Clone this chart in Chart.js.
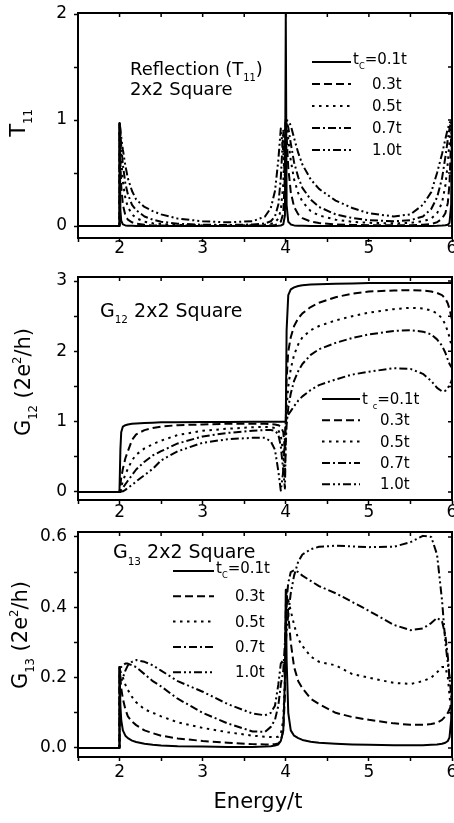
<!DOCTYPE html>
<html>
<head>
<meta charset="utf-8">
<script src="https://cdn.jsdelivr.net/npm/chart.js@4.4.1/dist/chart.umd.min.js"></script>
<style>
  html, body { margin: 0; padding: 0; background: #fff; }
  body { width: 454px; height: 823px; position: relative; overflow: hidden; }
  canvas { position: absolute; left: 0; }
</style>
</head>
<body>
<canvas id="c1" width="454" height="262" style="top:0px"></canvas>
<canvas id="c2" width="454" height="258" style="top:262px"></canvas>
<canvas id="c3" width="454" height="303" style="top:520px"></canvas>
<script>
// energy grid (E/t), shared by all three panels
const energy = [1.5, 1.999,
  2.0, 2.01, 2.02, 2.04, 2.07, 2.1, 2.15, 2.2, 2.3, 2.4, 2.5, 2.7,
  3.0, 3.3, 3.6, 3.75, 3.82, 3.87, 3.91, 3.94, 3.97, 3.99,
  4.0, 4.01, 4.03, 4.06, 4.1, 4.15, 4.2, 4.3, 4.4, 4.6, 4.8, 5.0,
  5.3, 5.5, 5.65, 5.75, 5.82, 5.88, 5.92, 5.95, 5.97, 5.99, 6.0];
const tcLabels = ['0.1t', '0.3t', '0.5t', '0.7t', '1.0t'];

// reflection T11
const t11_01 = [0, 0,
  0.97, 0.15, 0.05, 0.015, 0.006, 0.003, 0.002, 0.001, 0, 0, 0, 0,
  0, 0, 0, 0, 0, 0, 0.002, 0.005, 0.015, 0.1,
  2.0, 0.2, 0.04, 0.015, 0.006, 0.003, 0.002, 0.001, 0, 0, 0, 0,
  0, 0, 0, 0.001, 0.002, 0.004, 0.007, 0.012, 0.03, 0.2, 1.0];
const t11_03 = [0, 0,
  0.97, 0.6, 0.38, 0.2, 0.1, 0.06, 0.035, 0.022, 0.011, 0.006, 0.004, 0.002,
  0.001, 0.001, 0.002, 0.004, 0.006, 0.01, 0.02, 0.04, 0.12, 0.5,
  1.0, 0.85, 0.55, 0.32, 0.18, 0.11, 0.075, 0.042, 0.028, 0.015, 0.01, 0.008,
  0.007, 0.008, 0.012, 0.02, 0.035, 0.07, 0.12, 0.22, 0.4, 0.85, 1.0];
const t11_05 = [0, 0,
  0.97, 0.8, 0.63, 0.42, 0.26, 0.18, 0.11, 0.075, 0.04, 0.026, 0.018, 0.01,
  0.006, 0.005, 0.007, 0.012, 0.02, 0.035, 0.07, 0.15, 0.4, 0.85,
  1.0, 0.96, 0.82, 0.62, 0.44, 0.31, 0.23, 0.14, 0.1, 0.06, 0.04, 0.03,
  0.025, 0.03, 0.045, 0.07, 0.12, 0.22, 0.38, 0.6, 0.8, 0.97, 1.0];
const t11_07 = [0, 0,
  0.97, 0.88, 0.76, 0.58, 0.4, 0.3, 0.2, 0.15, 0.09, 0.06, 0.04, 0.022,
  0.012, 0.01, 0.014, 0.025, 0.045, 0.09, 0.2, 0.45, 0.9, 0.6,
  1.0, 0.99, 0.93, 0.78, 0.6, 0.46, 0.36, 0.25, 0.18, 0.11, 0.075, 0.055,
  0.045, 0.055, 0.09, 0.16, 0.27, 0.45, 0.65, 0.82, 0.92, 0.99, 1.0];
const t11_10 = [0, 0,
  0.97, 0.92, 0.84, 0.72, 0.57, 0.45, 0.33, 0.25, 0.18, 0.14, 0.11, 0.07,
  0.045, 0.035, 0.045, 0.09, 0.17, 0.33, 0.62, 0.92, 0.7, 0.45,
  1.0, 1.0, 0.99, 0.95, 0.83, 0.69, 0.58, 0.44, 0.35, 0.24, 0.17, 0.12,
  0.09, 0.11, 0.2, 0.32, 0.5, 0.68, 0.82, 0.92, 0.97, 1.0, 1.0];

// G12
const g12_01 = [0, 0,
  0, 0.6, 0.85, 0.93, 0.95, 0.96, 0.97, 0.975, 0.98, 0.985, 0.99, 0.99,
  0.995, 0.995, 1.0, 1.0, 1.0, 1.0, 1.0, 1.0, 1.0, 1.0,
  1.0, 2.3, 2.8, 2.88, 2.91, 2.93, 2.94, 2.95, 2.955, 2.96, 2.965, 2.97,
  2.97, 2.97, 2.97, 2.97, 2.97, 2.97, 2.97, 2.97, 2.97, 2.97, 2.97];
const g12_03 = [0, 0,
  0, 0.1, 0.2, 0.33, 0.48, 0.58, 0.74, 0.82, 0.88, 0.91, 0.93, 0.95,
  0.96, 0.97, 0.97, 0.97, 0.965, 0.96, 0.95, 0.93, 0.85, 0.6,
  1.0, 1.6, 2.0, 2.2, 2.36, 2.47, 2.54, 2.63, 2.69, 2.77, 2.82, 2.85,
  2.865, 2.87, 2.865, 2.85, 2.83, 2.8, 2.75, 2.68, 2.6, 2.5, 2.45];
const g12_05 = [0, 0,
  0, 0.04, 0.08, 0.15, 0.25, 0.33, 0.45, 0.53, 0.62, 0.68, 0.73, 0.81,
  0.87, 0.9, 0.92, 0.925, 0.92, 0.91, 0.88, 0.8, 0.55, 0.2,
  0.9, 1.2, 1.5, 1.75, 1.95, 2.1, 2.2, 2.3, 2.36, 2.44, 2.5, 2.55,
  2.6, 2.62, 2.61, 2.58, 2.54, 2.47, 2.38, 2.28, 2.2, 2.1, 2.05];
const g12_07 = [0, 0,
  0, 0.01, 0.03, 0.06, 0.11, 0.16, 0.24, 0.32, 0.43, 0.52, 0.58, 0.69,
  0.79, 0.84, 0.87, 0.88, 0.88, 0.87, 0.82, 0.65, 0.3, 0.05,
  0.7, 0.95, 1.2, 1.4, 1.58, 1.72, 1.82, 1.95, 2.03, 2.12, 2.19, 2.24,
  2.29, 2.3, 2.28, 2.24, 2.17, 2.08, 1.98, 1.88, 1.82, 1.78, 1.8];
const g12_10 = [0, 0,
  0, 0, 0.005, 0.01, 0.03, 0.06, 0.1, 0.15, 0.24, 0.33, 0.45, 0.58,
  0.7, 0.75, 0.77, 0.77, 0.72, 0.6, 0.3, 0.02, 0.3, 0.8,
  1.0, 1.05, 1.1, 1.15, 1.22, 1.3, 1.36, 1.45, 1.52, 1.6, 1.67, 1.71,
  1.76, 1.75, 1.68, 1.58, 1.48, 1.43, 1.44, 1.48, 1.52, 1.57, 1.6];

// G13
const g13_01 = [0, 0,
  0.23, 0.12, 0.08, 0.05, 0.035, 0.028, 0.021, 0.017, 0.012, 0.009, 0.007, 0.005,
  0.004, 0.003, 0.003, 0.004, 0.005, 0.007, 0.01, 0.02, 0.05, 0.2,
  0.45, 0.25, 0.1, 0.05, 0.035, 0.028, 0.023, 0.018, 0.015, 0.012, 0.01, 0.009,
  0.008, 0.008, 0.008, 0.009, 0.01, 0.012, 0.015, 0.02, 0.03, 0.08, 0.2];
const g13_03 = [0, 0,
  0.23, 0.2, 0.17, 0.14, 0.11, 0.09, 0.075, 0.065, 0.05, 0.042, 0.035, 0.027,
  0.02, 0.015, 0.011, 0.01, 0.01, 0.011, 0.013, 0.02, 0.05, 0.15,
  0.4, 0.45, 0.38, 0.3, 0.23, 0.19, 0.17, 0.14, 0.125, 0.1, 0.088, 0.08,
  0.07, 0.066, 0.066, 0.068, 0.072, 0.08, 0.09, 0.1, 0.11, 0.12, 0.12];
const g13_05 = [0, 0,
  0.23, 0.22, 0.21, 0.2, 0.18, 0.165, 0.145, 0.13, 0.11, 0.1, 0.09, 0.073,
  0.057, 0.045, 0.035, 0.032, 0.031, 0.031, 0.032, 0.04, 0.08, 0.2,
  0.35, 0.41, 0.42, 0.39, 0.35, 0.31, 0.29, 0.26, 0.245, 0.235, 0.21, 0.2,
  0.185, 0.182, 0.19, 0.2, 0.215, 0.23, 0.23, 0.2, 0.15, 0.1, 0.08];
const g13_07 = [0, 0,
  0.23, 0.23, 0.23, 0.235, 0.24, 0.24, 0.235, 0.23, 0.21, 0.19, 0.175, 0.14,
  0.1, 0.07, 0.047, 0.046, 0.06, 0.08, 0.12, 0.18, 0.22, 0.3,
  0.35, 0.42, 0.47, 0.5, 0.505, 0.5, 0.49, 0.475, 0.46, 0.44, 0.415, 0.39,
  0.35, 0.335, 0.34, 0.355, 0.37, 0.36, 0.32, 0.26, 0.2, 0.15, 0.13];
const g13_10 = [0, 0,
  0.23, 0.2, 0.19, 0.2, 0.22, 0.235, 0.245, 0.25, 0.245, 0.235, 0.22, 0.19,
  0.16, 0.125, 0.098, 0.093, 0.1, 0.12, 0.18, 0.24, 0.25, 0.2,
  0.3, 0.33, 0.38, 0.44, 0.49, 0.53, 0.55, 0.565, 0.572, 0.575, 0.573, 0.571,
  0.572, 0.585, 0.603, 0.6, 0.55, 0.42, 0.3, 0.24, 0.2, 0.2, 0.2];

const FONT = "'DejaVu Sans', sans-serif";
const dashes = [[], [8, 4], [2.5, 4.5], [8, 3, 2, 3], [8, 3, 2, 3, 2, 3]];

Chart.defaults.font.family = FONT;
Chart.defaults.color = '#000';

// text with sub/superscripts: parts = [[text, ''|'sub'|'sup'], ...]
function richWidth(ctx, parts, size) {
  let w = 0;
  parts.forEach(([t, k]) => {
    ctx.font = (k ? size * 0.55 : size) + 'px ' + FONT;
    w += ctx.measureText(t).width;
  });
  return w;
}
function drawRich(ctx, parts, x, y, size, center) {
  let cx = center ? x - richWidth(ctx, parts, size) / 2 : x;
  ctx.textAlign = 'left';
  ctx.textBaseline = 'alphabetic';
  parts.forEach(([t, k]) => {
    ctx.font = (k ? size * 0.55 : size) + 'px ' + FONT;
    const dy = k === 'sub' ? size * 0.35 : k === 'sup' ? -size * 0.42 : 0;
    ctx.fillText(t, cx, y + dy);
    cx += ctx.measureText(t).width;
  });
}

function decor(p) {
  return {
    id: 'decor',
    afterDraw(chart) {
      const ctx = chart.ctx;
      const a = chart.chartArea;
      const xs = chart.scales.x, ys = chart.scales.y;
      ctx.save();
      ctx.fillStyle = '#000';
      ctx.strokeStyle = '#000';
      // frame + inward ticks on top and right
      ctx.lineWidth = 2;
      ctx.setLineDash([]);
      ctx.strokeRect(a.left, a.top, a.right - a.left, a.bottom - a.top);
      ctx.lineWidth = 1.5;
      ctx.beginPath();
      xs.ticks.forEach(t => {
        const px = xs.getPixelForValue(t.value);
        ctx.moveTo(px, a.top); ctx.lineTo(px, a.top + 4);
      });
      ys.ticks.forEach(t => {
        const py = ys.getPixelForValue(t.value);
        ctx.moveTo(a.right, py); ctx.lineTo(a.right - 4, py);
      });
      ctx.stroke();
      // y title
      ctx.save();
      ctx.translate(p.yTitle.x, p.yTitle.y);
      ctx.rotate(-Math.PI / 2);
      drawRich(ctx, p.yTitle.parts, 0, 0, 21, true);
      ctx.restore();
      // notes inside the plot
      p.notes.forEach(n => drawRich(ctx, n.parts, n.x, n.y, n.size, false));
      // legend
      const L = p.legend;
      chart.data.datasets.forEach((ds, i) => {
        const y = L.y0 + i * L.dy;
        ctx.lineWidth = 2;
        ctx.setLineDash(ds.borderDash);
        ctx.beginPath();
        ctx.moveTo(L.x1, y); ctx.lineTo(L.x2, y);
        ctx.stroke();
        ctx.setLineDash([]);
        if (i === 0) {
          drawRich(ctx, L.first.concat([['=' + tcLabels[0], '']]), L.tx0, y + L.firstDy, L.size, false);
        } else {
          drawRich(ctx, [[tcLabels[i], '']], L.tx, y + 5, L.size, false);
        }
      });
      if (p.xTitle) drawRich(ctx, [[p.xTitle.text, '']], p.xTitle.x, p.xTitle.y, 21, true);
      ctx.restore();
    }
  };
}

const panels = [
  {
    id: 'c1', series: [t11_01, t11_03, t11_05, t11_07, t11_10],
    yMin: -0.113, yMax: 2.01, yStep: 0.5, yLabel: v => Number.isInteger(v) ? String(v) : '',
    top: 13, xh: 24, xpad: -2,
    yTitle: { parts: [['T', ''], ['11', 'sub']], x: 25, y: 123 },
    notes: [
      { parts: [['Reflection (T', ''], ['11', 'sub'], [')', '']], x: 130, y: 75, size: 18 },
      { parts: [['2x2 Square', '']], x: 130, y: 94.5, size: 18 }
    ],
    legend: { x1: 312, x2: 351, tx0: 353, tx: 372, y0: 62, dy: 22, size: 15, firstDy: 2,
      first: [['t', ''], ['C', 'sub']] }
  },
  {
    id: 'c2', series: [g12_01, g12_03, g12_05, g12_07, g12_10],
    yMin: -0.114, yMax: 3.057, yStep: 0.5, yLabel: v => Number.isInteger(v) ? String(v) : '',
    top: 15, xh: 20, xpad: 0,
    yTitle: { parts: [['G', ''], ['12', 'sub'], [' (2e', ''], ['2', 'sup'], ['/h)', '']], x: 30, y: 120 },
    notes: [
      { parts: [['G', ''], ['12', 'sub'], [' 2x2 Square', '']], x: 100, y: 54.7, size: 19 }
    ],
    legend: { x1: 322, x2: 360, tx0: 362, tx: 380, y0: 137, dy: 21.3, size: 15, firstDy: 5,
      first: [['t ', ''], ['c', 'sub']] }
  },
  {
    id: 'c3', series: [g13_01, g13_03, g13_05, g13_07, g13_10],
    yMin: -0.0256, yMax: 0.614, yStep: 0.1,
    yLabel: v => Math.round(v * 10) % 2 === 0 ? v.toFixed(1) : '',
    top: 12, xh: 66, xpad: 3,
    yTitle: { parts: [['G', ''], ['13', 'sub'], [' (2e', ''], ['2', 'sup'], ['/h)', '']], x: 27, y: 115 },
    notes: [
      { parts: [['G', ''], ['13', 'sub'], [' 2x2 Square', '']], x: 113, y: 38, size: 19 }
    ],
    legend: { x1: 173, x2: 214, tx0: 216, tx: 235, y0: 51, dy: 25.3, size: 15, firstDy: 2,
      first: [['t', ''], ['C', 'sub']] },
    xTitle: { text: 'Energy/t', x: 258, y: 288 }
  }
];

panels.forEach(p => {
  new Chart(document.getElementById(p.id), {
    type: 'line',
    data: {
      datasets: p.series.map((ys, i) => ({
        label: tcLabels[i],
        data: energy.map((x, j) => ({ x: x, y: ys[j] })),
        borderColor: '#000',
        borderWidth: 2,
        borderDash: dashes[i],
        borderJoinStyle: 'round',
        pointRadius: 0,
        tension: 0,
        fill: false
      }))
    },
    options: {
      responsive: false,
      animation: false,
      devicePixelRatio: 1,
      layout: { padding: { top: p.top, right: 2, left: 0, bottom: 0 } },
      plugins: { legend: { display: false }, tooltip: { enabled: false } },
      scales: {
        x: {
          type: 'linear', min: 1.5, max: 6,
          afterFit: s => { s.height = p.xh; s.paddingLeft = 0; s.paddingRight = 0; },
          ticks: {
            stepSize: 0.5, includeBounds: false, autoSkip: false, maxRotation: 0,
            padding: p.xpad, font: { size: 17, lineHeight: 1 },
            callback: v => Number.isInteger(v) ? String(v) : ''
          },
          grid: { drawOnChartArea: false, tickLength: 4, tickWidth: 1.5, tickColor: '#000' },
          border: { color: '#000', width: 2 }
        },
        y: {
          type: 'linear', min: p.yMin, max: p.yMax,
          afterFit: s => { s.width = 78; s.paddingTop = 0; s.paddingBottom = 0; },
          ticks: {
            stepSize: p.yStep, includeBounds: false, autoSkip: false,
            padding: 7, font: { size: 17, lineHeight: 1 },
            callback: p.yLabel
          },
          grid: { drawOnChartArea: false, tickLength: 4, tickWidth: 1.5, tickColor: '#000' },
          border: { color: '#000', width: 2 }
        }
      }
    },
    plugins: [decor(p)]
  });
});
</script>
</body>
</html>
